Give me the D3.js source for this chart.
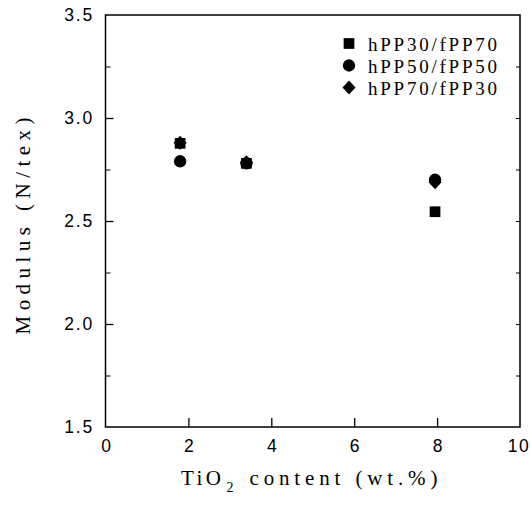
<!DOCTYPE html>
<html><head><meta charset="utf-8">
<script src="https://cdn.jsdelivr.net/npm/d3@7"></script>
<style>body{margin:0;background:#fff;}</style>
</head><body>
<svg id="c" width="531" height="506"></svg>
<script>
const seriesNames = ["hPP30/fPP70", "hPP50/fPP50", "hPP70/fPP30"];
const symbols = ["square", "circle", "diamond"];
const xValues = [1.8, 3.4, 7.95];
const sq = [2.877, 2.78, 2.545];
const ci = [2.79, 2.78, 2.70];
const di = [2.88, 2.785, 2.688];
const xTicks = [0, 2, 4, 6, 8, 10];
const yTicks = [1.5, 2.0, 2.5, 3.0, 3.5];
const yMinor = [1.75, 2.25, 2.75, 3.25];

const svg = d3.select("#c");
const L = 105.5, R = 520, T = 15, B = 427;
const x = d3.scaleLinear().domain([0, 10]).range([L, R]);
const y = d3.scaleLinear().domain([1.5, 3.5]).range([B, T]);
const serif = "'Liberation Serif', 'DejaVu Serif', serif";
const sans = "'Liberation Sans', Arial, sans-serif";

// frame
svg.append("rect").attr("x", L).attr("y", T).attr("width", R - L).attr("height", B - T)
  .attr("fill", "none").attr("stroke", "#000").attr("stroke-width", 1.5);

// bottom axis
const xa = svg.append("g").attr("transform", `translate(0,${B})`)
  .call(d3.axisBottom(x).tickValues(xTicks).tickSizeInner(-9).tickSizeOuter(0).tickPadding(13).tickFormat(d3.format("d")));
xa.select(".domain").remove();
xa.selectAll("line").attr("stroke-width", 1.3);
xa.selectAll("text").attr("font-family", sans).attr("font-size", 17.5).attr("letter-spacing", 1.5)
  .attr("dx", 0.75).attr("fill", "#000");
xa.selectAll(".tick").filter(d => d === 10).select("text").attr("dx", -1.5);
xa.selectAll(".tick").filter(d => d === 0 || d === 10).select("line").remove();

// left axis
const ya = svg.append("g").attr("transform", `translate(${L},0)`)
  .call(d3.axisLeft(y).tickValues(yTicks).tickSizeInner(-8).tickSizeOuter(0).tickPadding(11.5).tickFormat(d3.format(".1f")));
ya.select(".domain").remove();
ya.selectAll("line").attr("stroke-width", 1.3);
ya.selectAll("text").attr("font-family", sans).attr("font-size", 17.5).attr("letter-spacing", 1.8).attr("fill", "#000");
ya.selectAll(".tick").filter(d => d === 1.5 || d === 3.5).select("line").remove();
const ym = svg.append("g").attr("transform", `translate(${L},0)`)
  .call(d3.axisLeft(y).tickValues(yMinor).tickSizeInner(-5).tickSizeOuter(0).tickFormat(""));
ym.select(".domain").remove();

// right axis ticks
const yr = svg.append("g").attr("transform", `translate(${R},0)`)
  .call(d3.axisRight(y).tickValues(yTicks.filter(d => d > 1.5 && d < 3.5).concat(yMinor)).tickSizeInner(-4).tickSizeOuter(0).tickFormat(""));
yr.select(".domain").remove();

// symbols
const diamondPath = "M0,-7L6.5,0L0,7L-6.5,0Z";
const sym = {
  square: () => d3.symbol().type(d3.symbolSquare).size(115)(),
  circle: () => d3.symbol().type(d3.symbolCircle).size(120)(),
  diamond: () => diamondPath
};
const series = [sq, ci, di];
series.forEach((vals, i) => {
  svg.append("g").selectAll("path").data(vals).join("path")
    .attr("d", sym[symbols[i]]())
    .attr("transform", (d, j) => `translate(${x(xValues[j])},${y(d)})`)
    .attr("fill", "#000");
});

// legend
const lg = svg.append("g");
seriesNames.forEach((n, i) => {
  const yy = 43.5 + i * 22;
  lg.append("path").attr("d", sym[symbols[i]]())
    .attr("transform", `translate(349,${yy})`).attr("fill", "#000");
  lg.append("text").attr("x", 368).attr("y", yy + 7.5).text(n)
    .attr("font-family", serif).attr("font-size", 19).attr("textLength", 129)
    .attr("lengthAdjust", "spacing").attr("fill", "#000");
});

// axis titles
const xt = svg.append("text").attr("x", 181).attr("y", 485)
  .attr("font-family", serif).attr("font-size", 21).attr("fill", "#000")
  .attr("xml:space", "preserve");
xt.append("tspan").text("TiO").attr("textLength", 40).attr("lengthAdjust", "spacing");
xt.append("tspan").text("2").attr("font-size", 14).attr("dy", 7).attr("dx", 2);
xt.append("tspan").text("content (wt.%)").attr("dy", -7).attr("dx", 16)
  .attr("textLength", 188).attr("lengthAdjust", "spacing");

svg.append("text").attr("transform", "translate(30,226) rotate(-90)")
  .attr("text-anchor", "middle").attr("font-family", serif).attr("font-size", 21)
  .attr("textLength", 217).attr("lengthAdjust", "spacing")
  .attr("fill", "#000").text("Modulus (N/tex)");
</script>
</body></html>
